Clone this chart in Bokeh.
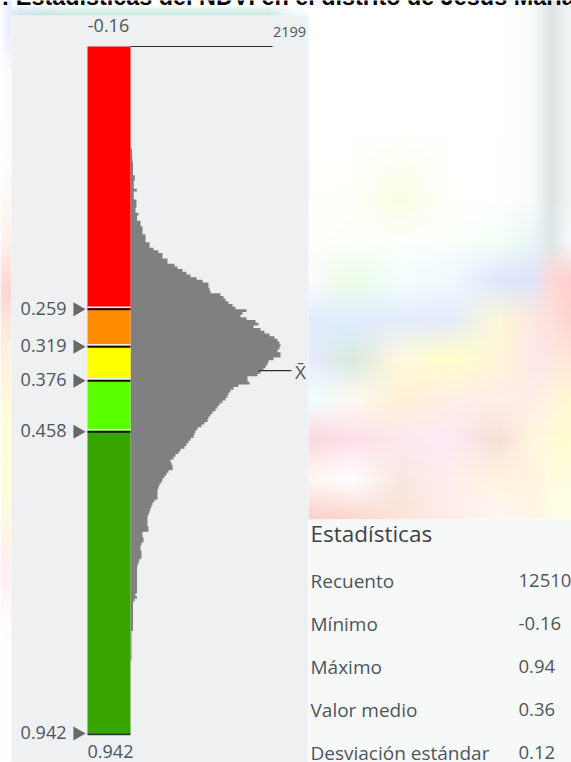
import numpy as np
from bokeh.plotting import figure
from bokeh.models import Range1d
from bokeh.core.properties import value
from bokeh.embed import file_html
from bokeh.resources import INLINE

# ---- data ----
title_text = ": Estadísticas del NDVI en el distrito de Jesús María"
ndvi_min = -0.16
ndvi_max = 0.942
hist_start = 0.0036
hist_bin = 0.0043
hist_counts = [
    22, 22, 25, 25, 29, 37, 37, 37, 37, 37, 63, 63, 48, 48, 48, 92, 48, 48, 48, 88, 88, 88, 73, 73,
    117, 95, 95, 147, 147, 176, 176, 176, 220, 220, 220, 279, 279, 337, 410, 469, 469, 542, 542,
    645, 689, 762, 821, 880, 968, 1056, 1143, 1143, 1158, 1173, 1319, 1363, 1393, 1437, 1495, 1539,
    1701, 1642, 1613, 1701, 1833, 1876, 1803, 1906, 1964, 2038, 2111, 2155, 2184, 2199, 2184, 2155,
    2199, 2199, 2096, 2023, 2008, 1979, 1950, 1906, 1862, 1715, 1715, 1745, 1583, 1510, 1466, 1437,
    1422, 1393, 1349, 1305, 1275, 1246, 1202, 1173, 1143, 1129, 1085, 1041, 982, 953, 938, 924, 880,
    850, 821, 792, 733, 704, 660, 630, 586, 601, 616, 616, 557, 528, 498, 469, 454, 425, 410, 396,
    396, 396, 396, 352, 323, 308, 293, 279, 264, 249, 249, 249, 249, 264, 264, 176, 176, 191, 191,
    161, 147, 147, 161, 161, 161, 132, 117, 103, 95, 95, 95, 95, 95, 95, 95, 95, 95, 95, 73, 95, 59,
    37, 37, 37, 37, 37, 37, 37, 37, 37, 37, 37, 15, 15, 15, 15, 15, 15, 15, 15, 15, 15, 15,
]
bar_edges = [-0.16, 0.2615, 0.3215, 0.376, 0.458, 0.942]
bar_colors = ["#fe0000", "#ff8c00", "#ffff00", "#5aff00", "#38a400"]
break_lines = [0.2615, 0.3215, 0.376, 0.458]
break_labels = ["0.259", "0.319", "0.376", "0.458", "0.942"]
break_marks = [0.2615, 0.3215, 0.376, 0.458, 0.942]
mean_value = 0.36
hist_max_label = "2199"
stat_names = ["Recuento", "Mínimo", "Máximo", "Valor medio", "Desviación estándar"]
stat_values = ["125105", "-0.16", "0.94", "0.36", "0.12"]

# pastel backdrop colours, sampled on a coarse grid
right_xs = [308, 350, 400, 450, 500, 535, 553, 571]
right_ys = [0, 130, 200, 240, 280, 320, 360, 400, 440, 480, 519]
right_grid = [
    ["ffffff", "ffffff", "ffffff", "ffffff", "ffffff", "f8fbfb", "dfe4e4", "f2f5f5"],
    ["ffffff", "ffffff", "ffffff", "ffffff", "ffffff", "f8fbfb", "dfe4e4", "f2f5f5"],
    ["fffffb", "fffffa", "fbfee4", "fffffc", "ffffff", "f8fbfb", "dfe4e4", "f2f5f5"],
    ["fffdfa", "fdfffa", "fdfffb", "fbfffb", "f6fff8", "e8f6f6", "dde7e8", "f7fafa"],
    ["fdfcff", "ecfde4", "f4ffff", "f0fbff", "e0e5ff", "dfe5fb", "ffd8d8", "ffd0d0"],
    ["e4ecfb", "e0eeff", "e5ecfc", "e6ebfc", "fbf8d8", "ffe8e0", "ffe0dc", "ffd4d0"],
    ["e8ecff", "d8eadf", "fff8e0", "ffffc8", "fff5d8", "fde8e8", "fce8e4", "ffe8d8"],
    ["f0ffff", "fffaf4", "fff0d5", "ffeee8", "fdeee8", "fdeee8", "fff4e0", "fff8d0"],
    ["fcd8e0", "fde0e8", "fde8f0", "fdeaf5", "f8e0d8", "fff8e0", "fffbd8", "fffdd0"],
    ["fff8f0", "ffffff", "f8e8e0", "ffeeee", "fff4e0", "fff4e0", "fffde0", "fffde0"],
    ["fccfd0", "fcd8d0", "fde4d8", "ffecec", "fff8f4", "fff4e8", "fffde8", "fffde8"],
]
left_xs = [0, 11]
left_ys = [0, 30, 70, 160, 240, 290, 340, 420, 500, 570, 630, 762]
left_grid = [
    ["ffffff", "e8ecff"], ["fbfbff", "e8ecff"], ["ffffff", "f8fcff"], ["ffffff", "fafffa"],
    ["fff4f4", "fff0e8"], ["ffd8d8", "ffd4d4"], ["ffeee0", "fff0e0"], ["fffde0", "fffdd8"],
    ["fffde4", "fffcd8"], ["ffeef5", "fff0f5"], ["ffffff", "fffdff"], ["ffffff", "ffffff"],
]
top_xs = [11, 20, 60, 270, 292, 308]
top_ys = [5, 15]
top_grid = [
    ["f6f8ff", "f0f4ff", "f4fbf8", "f4fbf8", "fcffff", "ffffff"],
    ["dfe4fb", "cfe2ee", "c8e8e0", "c8e8e0", "ecfaf8", "fafffe"],
]


def rgba_image(xs, ys, grid, step=2):
    cx = np.arange(xs[0], xs[-1] + step, step)
    cy = np.arange(ys[0], ys[-1] + step, step)
    arr = np.array([[[int(c[i:i + 2], 16) for i in (0, 2, 4)] for c in row] for row in grid], float)
    tmp = np.stack([np.stack([np.interp(cx, xs, arr[r, :, k]) for k in range(3)], -1)
                    for r in range(arr.shape[0])], 0)
    out = np.stack([np.stack([np.interp(cy, ys, tmp[:, c, k]) for k in range(3)], -1)
                    for c in range(tmp.shape[1])], 1)
    img = np.zeros(out.shape[:2], dtype=np.uint32)
    v = img.view(dtype=np.uint8).reshape(out.shape[0], out.shape[1], 4)
    v[:, :, :3] = out.astype(np.uint8)
    v[:, :, 3] = 255
    return np.flipud(img), xs[0], ys[-1], xs[-1] - xs[0], ys[-1] - ys[0]


# pixel frames: NDVI -0.16 at y=46, 0.942 at y=733; count 0 at x=130, max at x=280
k_y = (ndvi_max - ndvi_min) / 687.0
k_x = max(hist_counts) / 150.0
W, H = 571, 762
p = figure(
    width=W, height=H, output_backend="svg", toolbar_location=None, min_border=0,
    x_axis_location=None, y_axis_location=None,
    x_range=Range1d(-130 * k_x, (W - 130) * k_x),
    y_range=Range1d(ndvi_min + (H - 46) * k_y, ndvi_min - 46 * k_y),
    margin=(0, 0, 0, 0),
)
p.grid.visible = False
p.outline_line_color = None
p.background_fill_color = "white"
p.border_fill_color = "white"
p.extra_x_ranges["px"] = Range1d(0, W)
p.extra_y_ranges["py"] = Range1d(H, 0)
p.extra_y_ranges["pyup"] = Range1d(-H, 0)
PX = dict(x_range_name="px", y_range_name="py")

for xs, ys, grid in ((right_xs, right_ys, right_grid), (left_xs, left_ys, left_grid), (top_xs, top_ys, top_grid)):
    im, x0, y0, dw, dh = rgba_image(xs, ys, grid)
    p.image_rgba(image=[im], x=x0, y=-y0, dw=dw, dh=dh, x_range_name="px", y_range_name="pyup")

# panels
p.quad(left=11, right=308, top=15, bottom=H, fill_color="#eff0f2", line_color=None, **PX)
p.quad(left=307, right=W, top=519, bottom=H, fill_color="#f7f9f9", line_color=None, **PX)

TXT = "#4d555e"
FONT = value("Open Sans")

# histogram outline
counts = np.array(hist_counts, float)
edges = hist_start + hist_bin * np.arange(len(counts) + 1)
hx = np.concatenate([[0], np.repeat(counts, 2), [0]])
hy = np.repeat(edges, 2)
p.patch(hx, hy, fill_color="#808080", line_color=None)

# colour bar
p.quad(left=87, right=130, top=bar_edges[:-1], bottom=bar_edges[1:], fill_color=bar_colors,
       line_color=None, x_range_name="px")

# break lines
bl = np.array(break_lines)
white_y = bl - 2 * k_y
p.segment(x0=87, x1=130, y0=white_y, y1=white_y, line_color="#fff4f0", line_width=1.5, x_range_name="px")
p.segment(x0=87, x1=130, y0=bl, y1=bl, line_color="#111111", line_width=2, x_range_name="px")
p.segment(x0=[87], x1=[130], y0=[ndvi_max + 0.8 * k_y], y1=[ndvi_max + 0.8 * k_y], line_color="#333333",
          line_width=2, x_range_name="px")

# top max line, mean line
p.segment(x0=[130], x1=[272], y0=[ndvi_min], y1=[ndvi_min], line_color="#2e2e2e", line_width=1.2, x_range_name="px")
p.segment(x0=[258], x1=[291], y0=[mean_value], y1=[mean_value], line_color="#2e2e2e", line_width=1.2, x_range_name="px")

# break markers and labels
p.scatter(x=[77] * len(break_marks), y=break_marks, marker="triangle", size=14, angle=-np.pi / 2,
          fill_color="#686868", line_color=None, x_range_name="px")
p.text(x=[66] * len(break_labels), y=break_marks, text=break_labels, text_align="right", text_baseline="middle",
       text_font=FONT, text_font_size="18px", text_color=TXT, y_offset=-1, x_range_name="px")

p.text(x=[108], y=[25], text=[f"{ndvi_min:.2f}"], text_align="center", text_baseline="middle",
       text_font=FONT, text_font_size="18px", text_color=TXT, **PX)
p.text(x=[289], y=[31], text=[hist_max_label], text_align="center", text_baseline="middle",
       text_font=FONT, text_font_size="14.5px", text_color=TXT, **PX)
p.text(x=[110], y=[751], text=[f"{ndvi_max:.3f}"], text_align="center", text_baseline="middle",
       text_font=FONT, text_font_size="18px", text_color=TXT, **PX)
p.text(x=[300], y=[371], text=["X̄"], text_align="center", text_baseline="middle",
       text_font=FONT, text_font_size="19px", text_color=TXT, **PX)

# clipped title
p.text(x=[1], y=[-4], text=[title_text], text_align="left", text_baseline="alphabetic",
       text_font=value("Liberation Sans"), text_font_style="bold", text_font_size="23.4px", text_color="#000000", **PX)

# stats table
p.text(x=[310], y=[533], text=["Estadísticas"], text_align="left", text_baseline="middle",
       text_font=FONT, text_font_size="22.5px", text_font_style="normal", text_color="#3c434b", **PX)
row_y = 580 + 43 * np.arange(len(stat_names))
p.text(x=[310] * len(stat_names), y=row_y, text=stat_names, text_align="left", text_baseline="middle",
       text_font=FONT, text_font_size="19px", text_color=TXT, **PX)
p.text(x=[518] * len(stat_values), y=row_y, text=stat_values, text_align="left", text_baseline="middle",
       text_font=FONT, text_font_size="18.5px", text_color=TXT, **PX)

open("out.html", "w").write(file_html(p, INLINE))
